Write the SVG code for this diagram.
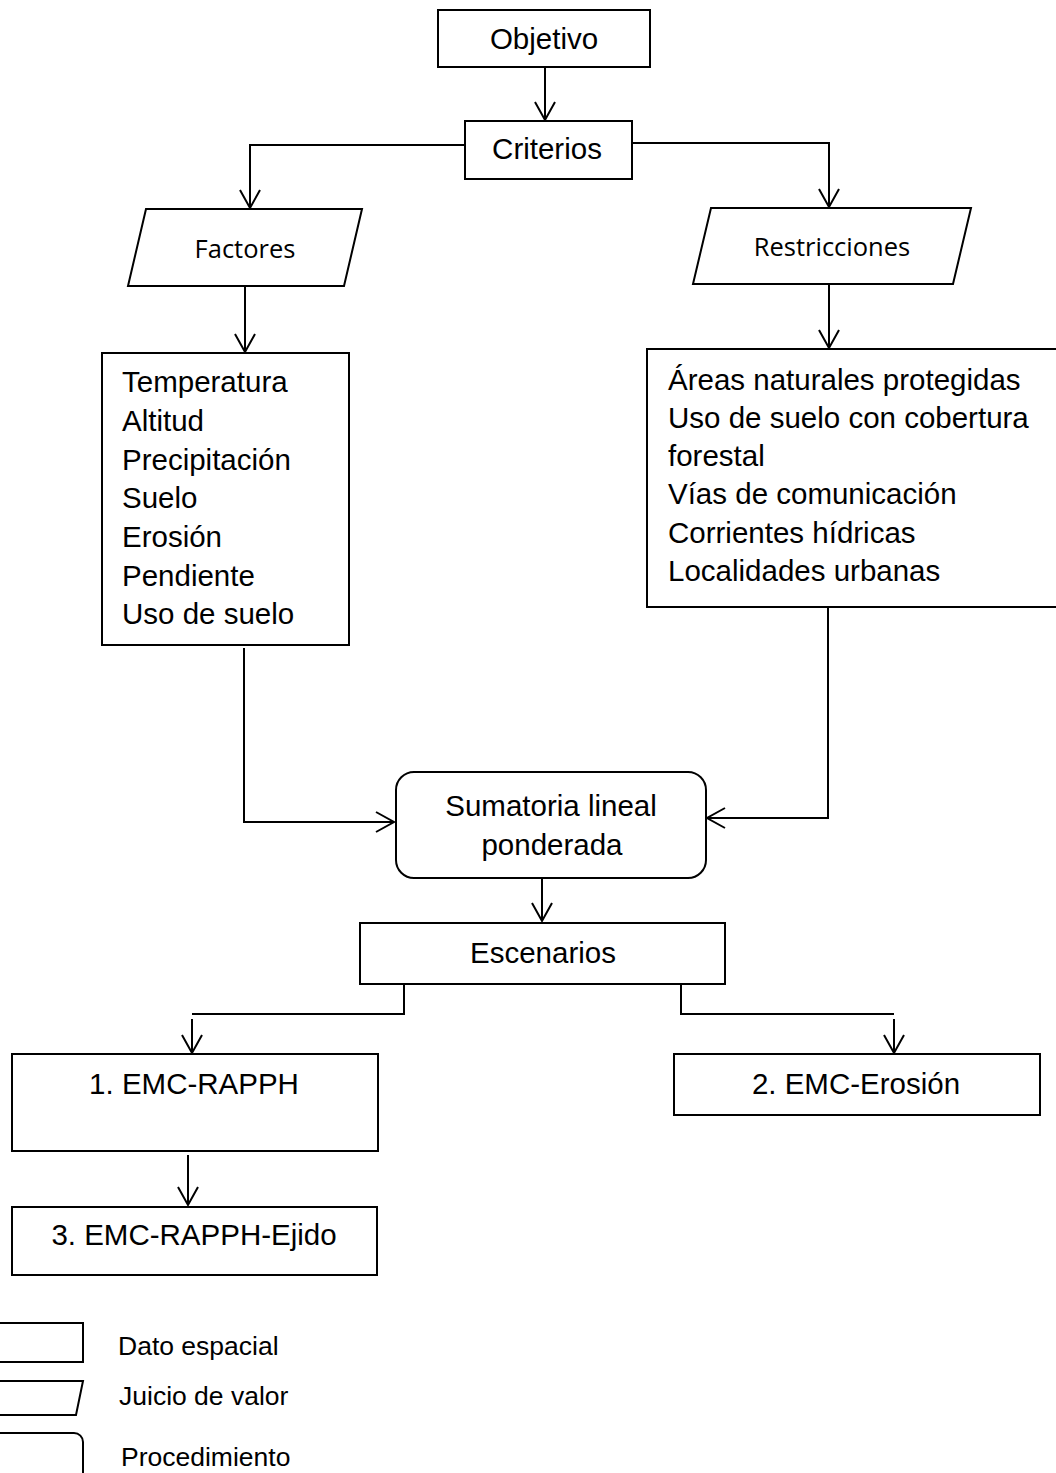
<svg xmlns="http://www.w3.org/2000/svg" width="1056" height="1473" viewBox="0 0 1056 1473">
<style>
  .box { fill: #fff; stroke: #000; stroke-width: 2; }
  .t { font-family: "Liberation Sans", Arial, sans-serif; font-size: 29.5px; fill: #000; }
  .tc { text-anchor: middle; }
  .c { font-family: "Open Sans", "Noto Sans", sans-serif; font-size: 25.5px; fill: #000; text-anchor: middle; }
  .lg { font-family: "Liberation Sans", Arial, sans-serif; font-size: 26.5px; fill: #000; }
  .conn { fill: none; stroke: #000; stroke-width: 2; marker-end: url(#arr); }
  .line { fill: none; stroke: #000; stroke-width: 2; }
</style>
<defs>
  <marker id="arr" markerUnits="userSpaceOnUse" markerWidth="24" markerHeight="24" refX="19" refY="11" orient="auto">
    <path d="M1,1 L19,11 L1,21" fill="none" stroke="#000" stroke-width="2"/>
  </marker>
</defs>
<rect width="1056" height="1473" fill="#fff"/>

<g id="connectors">
  <path class="conn" d="M545,67 V120"/>
  <path class="conn" d="M465,145 H250 V208"/>
  <path class="conn" d="M632,143 H829 V207"/>
  <path class="conn" d="M245,286 V352"/>
  <path class="conn" d="M829,284 V348"/>
  <path class="conn" d="M244,648 V822 H394"/>
  <path class="conn" d="M828,608 V818 H707"/>
  <path class="conn" d="M542,878 V921"/>
  <path class="line" d="M404,984 V1014 H192"/>
  <path class="conn" d="M192,1019 V1053"/>
  <path class="line" d="M681,984 V1014 H894"/>
  <path class="conn" d="M894,1019 V1053"/>
  <path class="conn" d="M188,1155 V1205"/>
</g>

<g id="objetivo">
  <rect class="box" x="438" y="10" width="212" height="57"/>
  <text class="t tc" x="544" y="49">Objetivo</text>
</g>
<g id="criterios">
  <rect class="box" x="465" y="121" width="167" height="58"/>
  <text class="t tc" x="547" y="159">Criterios</text>
</g>
<g id="factores">
  <polygon class="box" points="146,209 362,209 344,286 128,286"/>
  <text class="c" x="245" y="258">Factores</text>
</g>
<g id="restricciones">
  <polygon class="box" points="711,208 971,208 953,284 693,284"/>
  <text class="c" x="832" y="256">Restricciones</text>
</g>
<g id="factores-lista">
  <rect class="box" x="102" y="353" width="247" height="292"/>
  <text class="t" x="122" y="392">Temperatura</text>
  <text class="t" x="122" y="431">Altitud</text>
  <text class="t" x="122" y="470">Precipitación</text>
  <text class="t" x="122" y="508">Suelo</text>
  <text class="t" x="122" y="547">Erosión</text>
  <text class="t" x="122" y="586">Pendiente</text>
  <text class="t" x="122" y="624">Uso de suelo</text>
</g>
<g id="restricciones-lista">
  <rect class="box" x="647" y="349" width="420" height="258"/>
  <text class="t" x="668" y="390">Áreas naturales protegidas</text>
  <text class="t" x="668" y="428">Uso de suelo con cobertura</text>
  <text class="t" x="668" y="466">forestal</text>
  <text class="t" x="668" y="504">Vías de comunicación</text>
  <text class="t" x="668" y="543">Corrientes hídricas</text>
  <text class="t" x="668" y="581">Localidades urbanas</text>
</g>
<g id="sumatoria">
  <rect class="box" x="396" y="772" width="310" height="106" rx="18" ry="18"/>
  <text class="t tc" x="551" y="816">Sumatoria lineal</text>
  <text class="t tc" x="552" y="855">ponderada</text>
</g>
<g id="escenarios">
  <rect class="box" x="360" y="923" width="365" height="61"/>
  <text class="t tc" x="543" y="963">Escenarios</text>
</g>
<g id="emc-rapph">
  <rect class="box" x="12" y="1054" width="366" height="97"/>
  <text class="t tc" x="194" y="1094">1. EMC-RAPPH</text>
</g>
<g id="emc-erosion">
  <rect class="box" x="674" y="1054" width="366" height="61"/>
  <text class="t tc" x="856" y="1094">2. EMC-Erosión</text>
</g>
<g id="emc-rapph-ejido">
  <rect class="box" x="12" y="1207" width="365" height="68"/>
  <text class="t tc" x="194" y="1245">3. EMC-RAPPH-Ejido</text>
</g>

<g id="legend">
  <rect class="box" x="-20" y="1323" width="103" height="39"/>
  <text class="lg" x="118" y="1355">Dato espacial</text>
  <polygon class="box" points="-30,1381 83,1381 76,1415 -37,1415"/>
  <text class="lg" x="119" y="1405">Juicio de valor</text>
  <rect class="box" x="-30" y="1433" width="113" height="60" rx="9" ry="9"/>
  <text class="lg" x="121" y="1466">Procedimiento</text>
</g>
</svg>
